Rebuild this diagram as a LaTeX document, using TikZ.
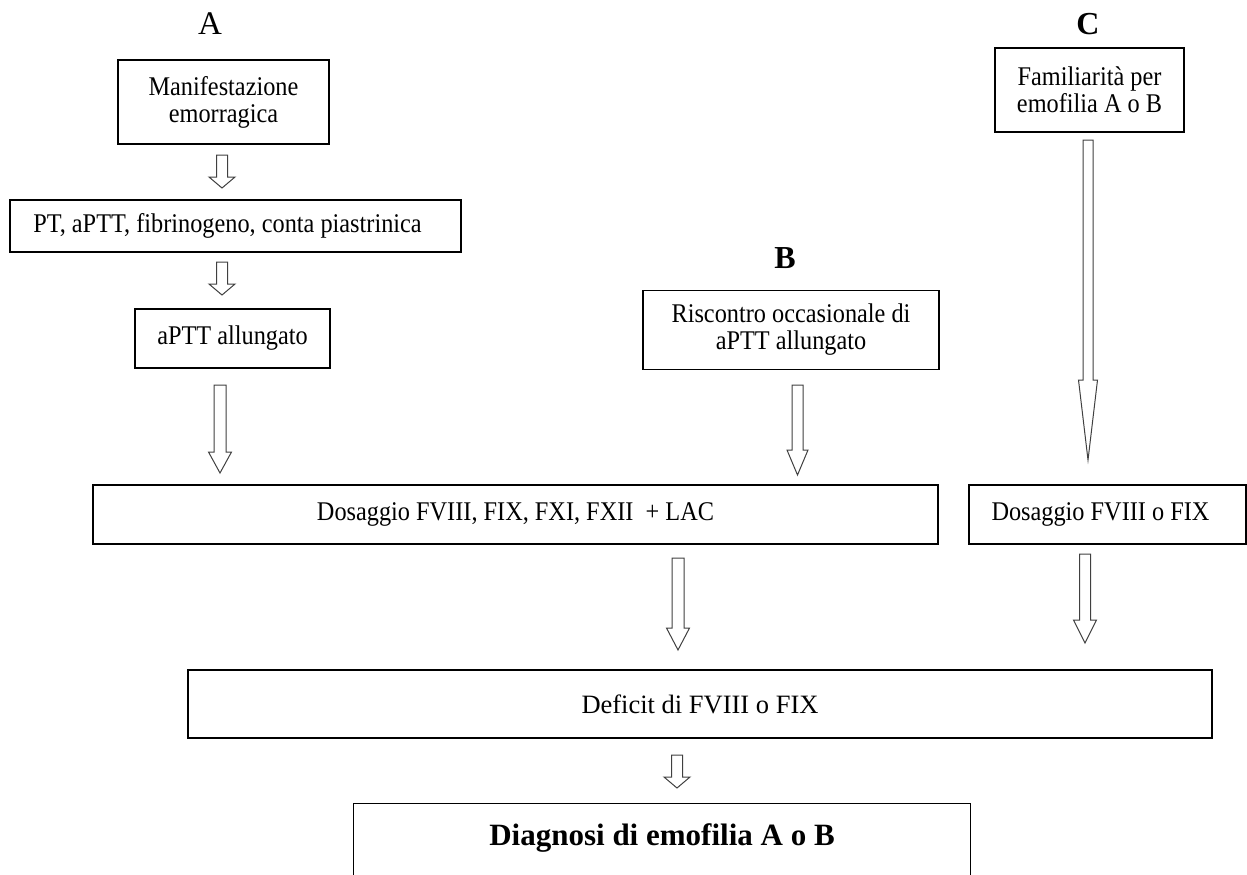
\documentclass[tikz,border=0pt]{standalone}
\usepackage{fontspec}
\setmainfont{Liberation Serif}
\newfontfamily\nfont{Liberation Serif}[FakeStretch=0.9]
\usetikzlibrary{calc}
\tikzset{
  box/.style={draw, line width=1.3pt, inner sep=0pt, align=center,
    font=\nfont\fontsize{27}{27}\selectfont},
  lbl/.style={inner sep=0pt, font=\fontsize{33}{33}\selectfont},
  barrow/.style={draw=black!75, line width=1pt, fill=white, line join=miter},
}
\newcommand\blockarrow[5]{%
  \path[barrow] let \p1=(#1), \p2=(#2) in
   (\x1-#3,\y1) -- (\x1+#3,\y1) -- (\x1+#3,\y2+#5) -- (\x1+#4,\y2+#5) --
   (\x1,\y2) -- (\x1-#4,\y2+#5) -- (\x1-#3,\y2+#5) -- cycle;}
\begin{document}
\begin{tikzpicture}[x=1pt,y=-1pt]
\useasboundingbox (0,0) rectangle (1247,875);
% labels
\node[lbl] (labA) at (210,24) {A};
\node[lbl, font=\fontsize{32}{32}\selectfont\bfseries] (labB) at (785,258) {B};
\node[lbl, font=\fontsize{32}{32}\selectfont\bfseries] (labC) at (1088,24) {C};
% boxes
\node[box, minimum width=211, minimum height=84] (m1) at (223.5,102) {Manifestazione\\emorragica};
\node[box, minimum width=451, minimum height=52] (m2) at (235.5,226) {PT, aPTT, fibrinogeno, conta piastrinica\hspace*{16pt}};
\node[box, minimum width=195, minimum height=59] (m3) at (232.5,338.5) {aPTT allungato};
\node[box, minimum width=296, minimum height=79] (mb) at (791,330) {Riscontro occasionale di\\aPTT allungato};
\node[box, minimum width=189, minimum height=84] (mc) at (1089.5,90) {Familiarità per\\emofilia A o B};
\node[box, minimum width=845, minimum height=59] (dos) at (515.5,514.5) {Dosaggio FVIII, FIX, FXI, FXII\ \ + LAC};
\node[box, minimum width=277, minimum height=59] (dos2) at (1107.5,514.5) {Dosaggio FVIII o FIX\hspace*{14pt}};
\node[box, font=\fontsize{26.5}{26.5}\selectfont, minimum width=1024, minimum height=68] (def) at (700,704) {Deficit di FVIII o FIX};
\node[box, draw=none, font=\fontsize{31}{31}\selectfont\bfseries, minimum width=616, minimum height=68] (diag) at (662,838) {Diagnosi di emofilia A o B};
\draw[line width=1.3pt] ([yshift=-80pt]diag.south west) -- (diag.north west) -- (diag.north east) -- ([yshift=-80pt]diag.south east);
% arrow end points
\coordinate (a1s) at (222,155); \coordinate (a1e) at (222,188);
\coordinate (a2s) at (222,262); \coordinate (a2e) at (222,295);
\coordinate (a3s) at (220,385); \coordinate (a3e) at (220,473);
\coordinate (a4s) at (797.5,385); \coordinate (a4e) at (797.5,475);
\coordinate (a5s) at (1088,140); \coordinate (a5e) at (1088,460);
\coordinate (a6s) at (678,558); \coordinate (a6e) at (678,650);
\coordinate (a7s) at (1085,554); \coordinate (a7e) at (1085,643);
\coordinate (a8s) at (677,755); \coordinate (a8e) at (677,788);
\blockarrow{a1s}{a1e}{5.5pt}{13pt}{11pt}
\blockarrow{a2s}{a2e}{5.5pt}{13pt}{11pt}
\blockarrow{a3s}{a3e}{6pt}{11.5pt}{21pt}
\blockarrow{a4s}{a4e}{5.5pt}{10.5pt}{25pt}
\blockarrow{a5s}{a5e}{5pt}{9.5pt}{80pt}
\blockarrow{a6s}{a6e}{6pt}{11.5pt}{22pt}
\blockarrow{a7s}{a7e}{5.5pt}{11.5pt}{23pt}
\blockarrow{a8s}{a8e}{5.5pt}{13pt}{11pt}
\end{tikzpicture}
\end{document}
